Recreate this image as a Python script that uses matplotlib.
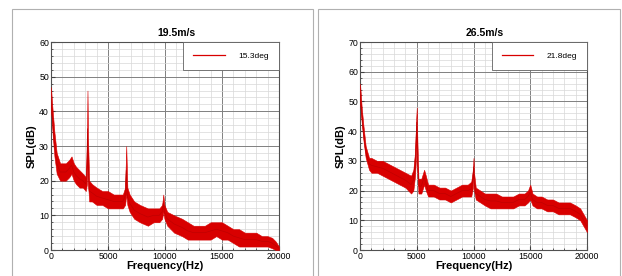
import numpy as np
import matplotlib.pyplot as plt
from matplotlib.lines import Line2D
from matplotlib.patches import Rectangle
from matplotlib.ticker import MultipleLocator

plt.rcParams['font.family'] = ['Liberation Sans', 'DejaVu Sans']

# envelope of the noisy spectrum band
f_left = [0, 60, 150, 300, 500, 800, 1000, 1300, 1600, 1800, 2000, 2200, 2500, 2800,
          3050, 3150, 3200, 3250, 3350, 3600, 4000, 4500, 5000, 5500, 6000, 6300, 6500,
          6600, 6700, 6900, 7300, 7800, 8500, 9000, 9500, 9750, 9850, 9950, 10200,
          10800, 11500, 12000, 12500, 13000, 13500, 14000, 14500, 15000, 15500, 16000,
          16500, 17000, 17500, 18000, 18500, 19000, 19400, 19700, 20000]
lo_left = [40, 38, 33, 27, 22, 20, 20, 20, 21, 22, 20, 19, 18, 18,
           17, 19, 24, 19, 14, 14, 13, 13, 12, 12, 12, 12, 13,
           16, 13, 11, 9, 8, 7, 8, 8, 9, 11, 9, 7,
           5, 4, 3, 3, 3, 3, 3, 4, 3, 3, 2,
           1, 1, 1, 1, 1, 1, 0.5, 0, 0]
hi_left = [47, 44, 40, 34, 28, 25, 25, 25, 26, 27, 25, 24, 23, 22,
           21, 30, 46, 32, 20, 19, 18, 17, 17, 16, 16, 16, 18,
           30, 18, 16, 14, 13, 12, 12, 12, 13, 16, 13, 11,
           10, 9, 8, 7, 7, 7, 8, 8, 8, 7, 6,
           6, 5, 5, 5, 4, 4, 3.5, 2.5, 1]

f_right = [0, 60, 150, 300, 500, 800, 1000, 1500, 2000, 2500, 3000, 3500, 4000, 4500,
           4700, 4850, 4950, 5000, 5050, 5150, 5400, 5650, 5800, 6000, 6500, 7000, 7500,
           8000, 8500, 9000, 9500, 9800, 9950, 10000, 10050, 10200, 10600, 11000,
           11500, 12000, 12500, 13000, 13500, 14000, 14500, 14800, 15000, 15200, 15600,
           16000, 16500, 17000, 17500, 18000, 18500, 19000, 19400, 19700, 20000]
lo_right = [50, 47, 43, 37, 31, 27, 26, 26, 25, 24, 23, 22, 21, 19,
            20, 25, 32, 38, 28, 19, 19, 22, 20, 18, 18, 17, 17,
            16, 17, 18, 18, 18, 21, 25, 20, 17, 16, 15,
            14, 14, 14, 14, 14, 15, 15, 16, 17, 15, 14,
            14, 13, 13, 12, 12, 12, 11, 10, 8, 6]
hi_right = [56, 53, 48, 42, 35, 31, 31, 30, 30, 29, 28, 27, 26, 25,
            27, 33, 44, 48, 38, 24, 24, 27, 25, 22, 22, 21, 21,
            20, 21, 22, 22, 23, 27, 31, 26, 21, 20, 19,
            19, 19, 18, 18, 18, 19, 19, 20, 22, 19, 18,
            18, 17, 17, 16, 16, 16, 15, 14, 12, 10]

panels = [
    dict(f=f_left, lo=lo_left, hi=hi_left, ymax=60, title='19.5m/s', label='15.3deg'),
    dict(f=f_right, lo=lo_right, hi=hi_right, ymax=70, title='26.5m/s', label='21.8deg'),
]

red = '#d80000'
fig = plt.figure(figsize=(6.22, 2.76), dpi=100)

# panel frames
fig.patches.append(Rectangle((12 / 622, -0.1), 301 / 622, 1.1 - 9 / 276, transform=fig.transFigure,
                             fill=False, edgecolor='#b0b0b0', linewidth=0.8))
fig.patches.append(Rectangle((318 / 622, -0.1), 302 / 622, 1.1 - 9 / 276, transform=fig.transFigure,
                             fill=False, edgecolor='#b0b0b0', linewidth=0.8))

positions = [[51 / 622, 26 / 276, 228 / 622, 208 / 276],
             [360 / 622, 26 / 276, 227 / 622, 208 / 276]]

for pos, p in zip(positions, panels):
    ax = fig.add_axes(pos)
    ax.fill_between(p['f'], p['lo'], p['hi'], color=red, linewidth=0.4, edgecolor=red, zorder=3)
    mid = (np.array(p['lo']) + np.array(p['hi'])) / 2
    ax.plot(p['f'], mid, color='#c00000', linewidth=0.5, zorder=4)
    ax.set_xlim(0, 20000)
    ax.set_ylim(0, p['ymax'])
    ax.xaxis.set_major_locator(MultipleLocator(5000))
    ax.xaxis.set_minor_locator(MultipleLocator(1000))
    ax.yaxis.set_major_locator(MultipleLocator(10))
    ax.yaxis.set_minor_locator(MultipleLocator(2))
    ax.grid(which='major', color='#808080', linewidth=0.7, zorder=0)
    ax.grid(which='minor', color='#d8d8d8', linewidth=0.5, zorder=0)
    ax.set_axisbelow(True)
    ax.tick_params(which='both', direction='in', labelsize=6.3, color='#404040')
    ax.tick_params(which='major', length=3, pad=1.5)
    ax.tick_params(which='minor', length=1.5)
    for s in ax.spines.values():
        s.set_color('#505050')
        s.set_linewidth(0.8)
    ax.set_title(p['title'], fontsize=7.5, fontweight='bold', x=0.55, pad=4)
    ax.set_xlabel('Frequency(Hz)', fontsize=8, fontweight='bold', labelpad=0)
    ax.set_ylabel('SPL(dB)', fontsize=8, fontweight='bold', labelpad=2)
    h = Line2D([], [], color=red, linewidth=0.9)
    leg = ax.legend([h], [p['label']], loc='upper right', fontsize=6, fancybox=False,
                    framealpha=1, edgecolor='#606060', borderaxespad=0, handlelength=3.8,
                    borderpad=1.2, handletextpad=1.6)
    leg.get_frame().set_linewidth(0.6)

fig.savefig('out.png', dpi=100)
